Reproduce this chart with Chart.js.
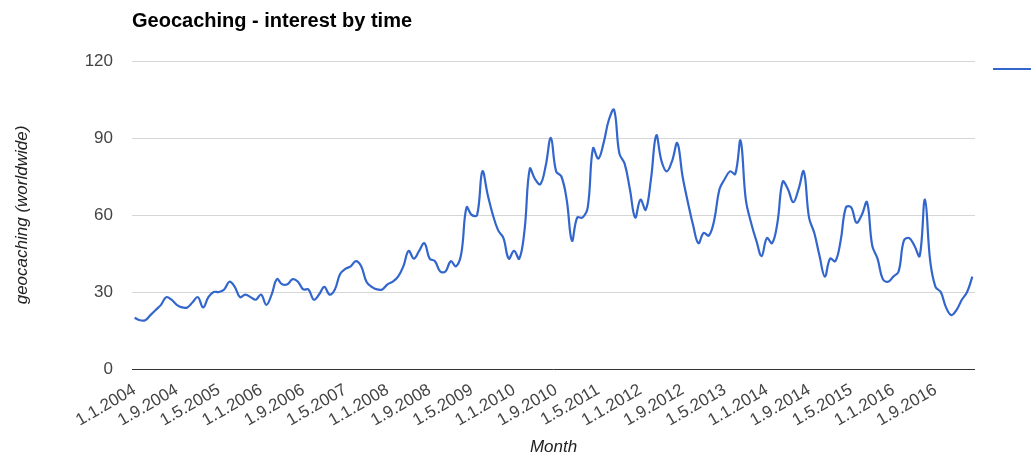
<!DOCTYPE html>
<html>
<head>
<meta charset="utf-8">
<title>Geocaching - interest by time</title>
<script src="https://cdn.jsdelivr.net/npm/chart.js@4.4.1/dist/chart.umd.min.js"></script>
<style>
  html, body { margin: 0; padding: 0; background: #fff; overflow: hidden; }
  #wrap { position: relative; width: 1031px; height: 454px; }
</style>
</head>
<body>
<div id="wrap"><canvas id="chart"></canvas></div>
<script>
// monthly Google Trends index, Jan 2004 .. Apr 2017
const startYear = 2004;
const monthCount = 160;

const interest = [
  20, 19, 19, 21, 23, 25, 28, 27, 25, 24, 24, 26,
  28, 24, 28, 30, 30, 31, 34, 32, 28, 29, 28, 27,
  29, 25, 29, 35, 33, 33, 35, 34, 31, 31, 27, 29,
  32, 29, 31, 37, 39, 40, 42, 40, 34, 32, 31, 31,
  33, 34, 36, 40, 46, 43, 46, 49, 43, 42, 38, 38,
  42, 40, 45, 63, 60, 60, 77, 68, 60, 54, 51, 43,
  46, 43, 54, 78, 74, 72, 79, 90, 77, 75, 66, 50,
  59, 59, 63, 86, 82, 88, 97, 101, 84, 80, 70, 59,
  66, 62, 74, 91, 81, 77, 81, 88, 75, 65, 56, 49,
  53, 52, 58, 70, 74, 77, 76, 89, 66, 57, 50, 44,
  51, 49, 57, 73, 70, 65, 70, 77, 59, 53, 44, 36,
  43, 42, 50, 63, 63, 57, 60, 65, 48, 43, 35, 34,
  36, 38, 50, 51, 48, 44, 66, 42, 32, 30, 24, 21,
  23, 27, 30, 36
];

const tickLabels = [
  "1.1.2004", "1.9.2004", "1.5.2005", "1.1.2006", "1.9.2006",
  "1.5.2007", "1.1.2008", "1.9.2008", "1.5.2009", "1.1.2010",
  "1.9.2010", "1.5.2011", "1.1.2012", "1.9.2012", "1.5.2013",
  "1.1.2014", "1.9.2014", "1.5.2015", "1.1.2016", "1.9.2016"
];

const yTicks = [0, 30, 60, 90, 120];

const months = [];
for (let i = 0; i < monthCount; i++) {
  months.push(`1.${(i % 12) + 1}.${startYear + Math.floor(i / 12)}`);
}

const font = '"Liberation Sans", Arial, sans-serif';
const lineColor = "#3366cc";

// google puts the legend swatch to the right of the plot; its text is cut off
const legendSwatch = {
  id: "legendSwatch",
  afterDraw(chart) {
    const { ctx, chartArea } = chart;
    ctx.save();
    ctx.strokeStyle = lineColor;
    ctx.lineWidth = 2;
    ctx.beginPath();
    ctx.moveTo(chartArea.right + 18, chartArea.top + 8);
    ctx.lineTo(chart.width, chartArea.top + 8);
    ctx.stroke();
    ctx.restore();
  }
};

new Chart(document.getElementById("chart"), {
  type: "line",
  data: {
    labels: months,
    datasets: [{
      label: "geocaching (worldwide)",
      data: interest,
      borderColor: lineColor,
      borderWidth: 2.2,
      pointRadius: 0,
      tension: 0.4,
      fill: false
    }]
  },
  options: {
    responsive: true,
    maintainAspectRatio: false,
    animation: false,
    layout: { padding: { left: 0, right: 56, top: 0, bottom: 0 } },
    plugins: {
      legend: { display: false },
      tooltip: { enabled: false },
      title: {
        display: true,
        text: "Geocaching - interest by time",
        align: "start",
        fullSize: false,
        color: "#000",
        font: { family: font, size: 20, weight: "bold" },
        padding: { top: 9, bottom: 28 }
      }
    },
    scales: {
      x: {
        type: "category",
        offset: true,
        grid: { display: false },
        border: { display: false },
        ticks: {
          autoSkip: false,
          minRotation: 30,
          maxRotation: 30,
          padding: 3,
          color: "#444",
          font: { family: font, size: 17 },
          callback(value) {
            const lab = this.getLabelForValue(value);
            return tickLabels.includes(lab) ? lab : "";
          }
        },
        title: {
          display: true,
          text: "Month",
          color: "#222",
          font: { family: font, size: 17, style: "italic" },
          padding: { top: 0, bottom: -3 }
        },
        afterFit(scale) { scale.height = 85; }
      },
      y: {
        min: 0,
        max: 120,
        afterBuildTicks(scale) { scale.ticks = yTicks.map(v => ({ value: v })); },
        grid: {
          drawTicks: false,
          color: ctx => (ctx.tick && ctx.tick.value === 0 ? "#333" : "#d6d6d6"),
          lineWidth: 1
        },
        border: { display: false },
        ticks: {
          padding: 19,
          color: "#444",
          font: { family: font, size: 17 }
        },
        title: {
          display: true,
          text: "geocaching (worldwide)",
          color: "#222",
          font: { family: font, size: 17, style: "italic" },
          padding: { top: 12, bottom: 0 }
        },
        afterFit(scale) { scale.width = 132; }
      }
    }
  },
  plugins: [legendSwatch]
});
</script>
</body>
</html>
